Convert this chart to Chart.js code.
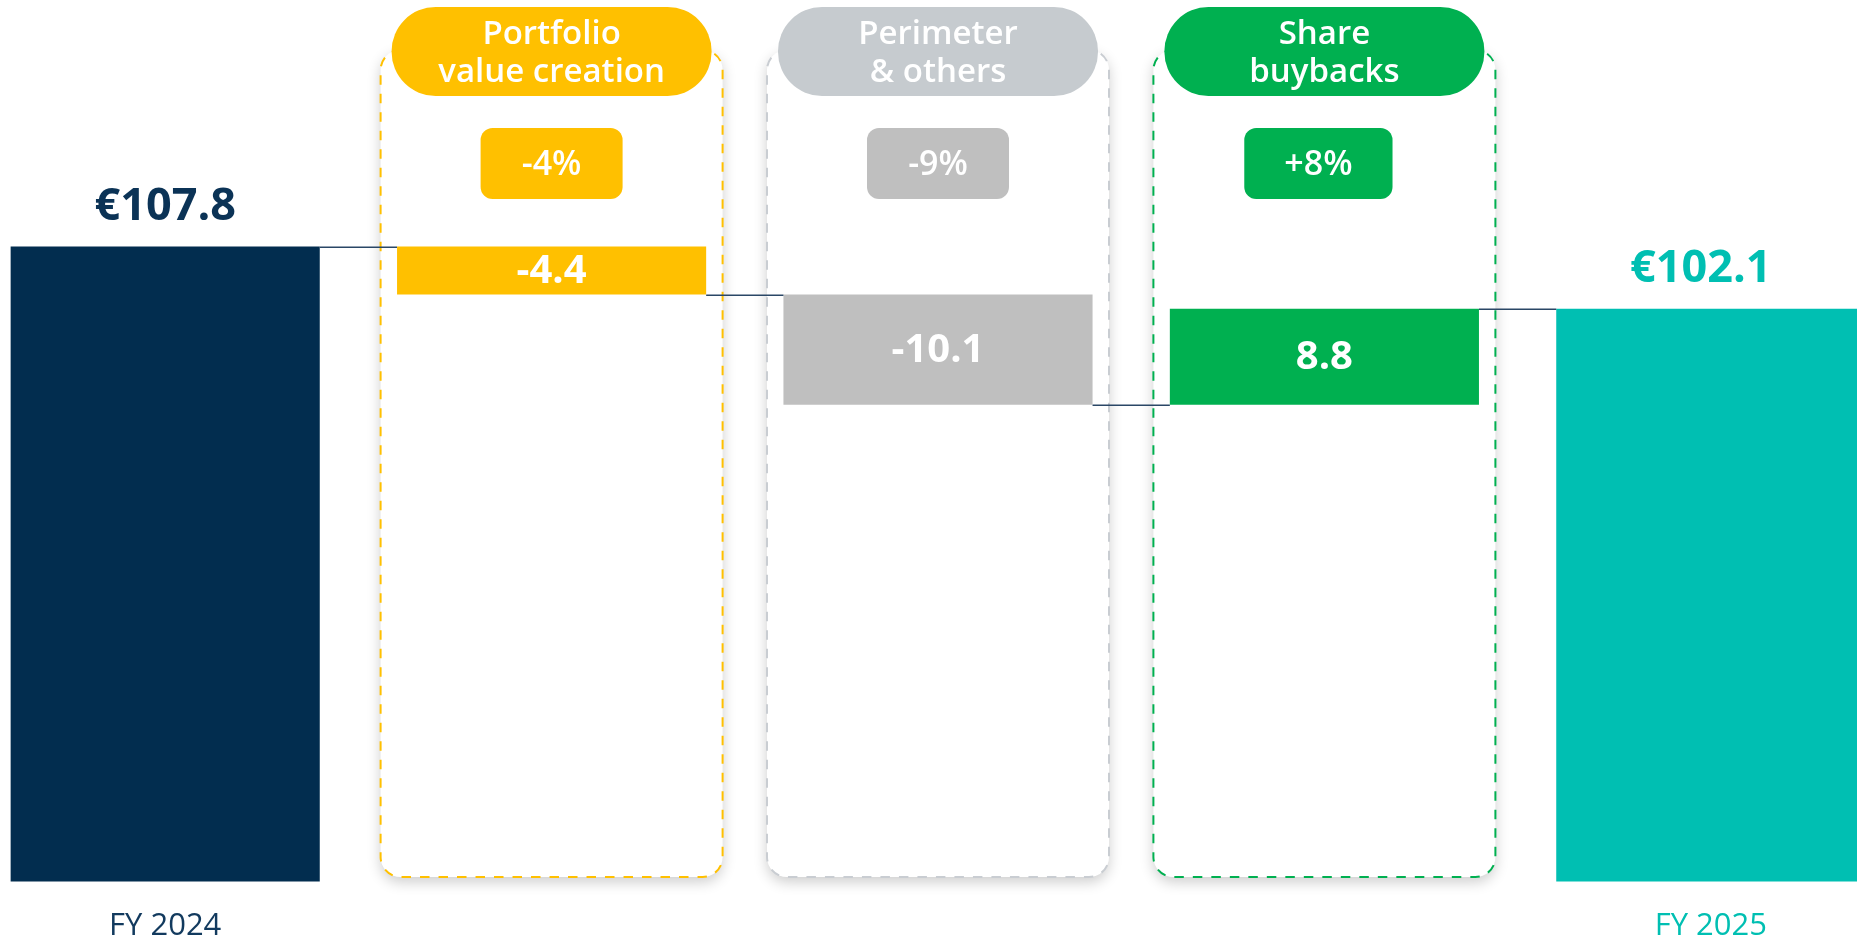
<!DOCTYPE html>
<html>
<head>
<meta charset="utf-8">
<script src="https://cdn.jsdelivr.net/npm/chart.js@4/dist/chart.umd.min.js"></script>
<style>
  html, body { margin: 0; padding: 0; background: #fff; overflow: hidden; }
  /* the first and last bars run off the page edges, so the canvas is a bit wider than the window */
  #wrap { position: absolute; left: -28px; top: 0; width: 1932px; height: 941px; }
</style>
</head>
<body>
<div id="wrap"><canvas id="bridgeChart"></canvas></div>
<script>
  // categories of the bridge
  const categories = ["FY 2024", "Portfolio value creation", "Perimeter & others", "Share buybacks", "FY 2025"];
  // header pill text for the three movement columns
  const headerLines = [[], ["Portfolio", "value creation"], ["Perimeter", "& others"], ["Share", "buybacks"], []];
  const pctLabels = ["", "-4%", "-9%", "+8%", ""];

  const startValue = 107.8;
  const deltas = [-4.4, -10.1, 8.8];
  const endValue = 102.1;

  const barColors = ["#022d4f", "#ffc000", "#bfbfbf", "#00b050", "#00bfb2"];
  const pillColors = ["", "#ffc000", "#c6cbcf", "#00b050", ""];
  const badgeColors = ["", "#ffc000", "#bfbfbf", "#00b050", ""];
  const boxDashColors = ["", "#ffc000", "#c9cdd2", "#00b050", ""];
  const tickColors = ["#123a5e", "", "", "", "#00bfb2"];

  const FONT = "'Open Sans', 'Noto Sans', sans-serif";

  // build the floating bars: totals sit on the axis, movements float between running totals
  let ranges = [[0, startValue]];
  let running = startValue;
  for (let i = 0; i < deltas.length; i++) {
    let next = +(running + deltas[i]).toFixed(1);
    ranges.push([Math.min(running, next), Math.max(running, next)]);
    running = next;
  }
  ranges.push([0, endValue]);
  // value that each bar hands over to the next one
  let levels = [startValue];
  running = startValue;
  for (let i = 0; i < deltas.length; i++) {
    running = +(running + deltas[i]).toFixed(1);
    levels.push(running);
  }

  function roundRect(ctx, x, y, w, h, r) {
    ctx.beginPath();
    ctx.moveTo(x + r, y);
    ctx.lineTo(x + w - r, y);
    ctx.arcTo(x + w, y, x + w, y + r, r);
    ctx.lineTo(x + w, y + h - r);
    ctx.arcTo(x + w, y + h, x + w - r, y + h, r);
    ctx.lineTo(x + r, y + h);
    ctx.arcTo(x, y + h, x, y + h - r, r);
    ctx.lineTo(x, y + r);
    ctx.arcTo(x, y, x + r, y, r);
    ctx.closePath();
  }

  // dashed column frames behind the movement bars
  const framesPlugin = {
    id: "frames",
    beforeDatasetsDraw(chart) {
      let ctx = chart.ctx;
      let x = chart.scales.x;
      for (let i = 1; i < categories.length - 1; i++) {
        let cx = x.getPixelForValue(i);
        let left = cx - 171, top = 50, w = 342, h = 827;
        ctx.save();
        ctx.shadowColor = "rgba(0,0,0,0.2)";
        ctx.shadowBlur = 14;
        ctx.shadowOffsetY = 5;
        roundRect(ctx, left, top, w, h, 20);
        ctx.fillStyle = "#fff";
        ctx.fill();
        ctx.restore();

        ctx.save();
        roundRect(ctx, left, top, w, h, 20);
        ctx.setLineDash([9.5, 9]);
        ctx.lineWidth = 2;
        ctx.strokeStyle = boxDashColors[i];
        ctx.stroke();
        ctx.restore();
      }
    },
    afterDatasetsDraw(chart) {
      let ctx = chart.ctx;
      let x = chart.scales.x;
      let y = chart.scales.y;
      let bars = chart.getDatasetMeta(0).data;

      // connector lines between bars
      ctx.save();
      ctx.strokeStyle = "#2a4766";
      ctx.lineWidth = 1.5;
      for (let i = 0; i < bars.length - 1; i++) {
        let ly = Math.round(y.getPixelForValue(levels[i])) + 0.25;
        ctx.beginPath();
        ctx.moveTo(bars[i].x + bars[i].width / 2, ly);
        ctx.lineTo(bars[i + 1].x - bars[i + 1].width / 2, ly);
        ctx.stroke();
      }
      ctx.restore();

      ctx.save();
      ctx.textAlign = "center";
      for (let i = 0; i < bars.length; i++) {
        let b = bars[i];
        if (i == 0 || i == bars.length - 1) {
          // totals above the bar
          let val = i == 0 ? startValue : endValue;
          ctx.fillStyle = i == 0 ? "#0b3356" : "#00bfb2";
          ctx.font = "bold 45px " + FONT;
          ctx.textBaseline = "alphabetic";
          ctx.fillText("€" + val.toFixed(1), i == 0 ? b.x : b.x - 10, b.y - 27);
        } else {
          // movement value inside the bar
          ctx.fillStyle = "#fff";
          ctx.font = "bold 40px " + FONT;
          ctx.textBaseline = "middle";
          ctx.fillText(deltas[i - 1].toFixed(1), b.x, (b.y + b.base) / 2 + 1);

          let cx = x.getPixelForValue(i);
          // header pill
          ctx.fillStyle = pillColors[i];
          roundRect(ctx, cx - 160, 7, 320, 89, 44);
          ctx.fill();
          ctx.fillStyle = "#fff";
          ctx.font = "600 33px " + FONT;
          ctx.textBaseline = "alphabetic";
          ctx.fillText(headerLines[i][0], cx, 44);
          ctx.fillText(headerLines[i][1], cx, 82);

          // percentage badge
          ctx.font = "600 34px " + FONT;
          let bw = Math.max(142, ctx.measureText(pctLabels[i]).width + 80);
          let bx = i == 3 ? cx - 6 : cx;
          ctx.fillStyle = badgeColors[i];
          roundRect(ctx, bx - bw / 2, 128, bw, 71, 12);
          ctx.fill();
          ctx.fillStyle = "#fff";
          ctx.textBaseline = "middle";
          ctx.fillText(pctLabels[i], bx, 165);
        }
      }
      ctx.restore();
    }
  };

  var ctx = document.getElementById("bridgeChart").getContext("2d");
  var chart = new Chart(ctx, {
    // floating bars make the waterfall
    type: "bar",
    data: {
      labels: categories,
      datasets: [{
        data: ranges,
        backgroundColor: barColors,
        borderWidth: 0,
        barPercentage: 1,
        categoryPercentage: 0.8
      }]
    },
    options: {
      responsive: true,
      maintainAspectRatio: false,
      animation: false,
      layout: { padding: 0 },
      plugins: {
        legend: { display: false },
        tooltip: { enabled: false }
      },
      scales: {
        x: {
          grid: { display: false, drawTicks: false },
          border: { display: false },
          // keep the plot bottom where the bars end in the picture
          afterFit: function (scale) { scale.height = 59.5; },
          ticks: {
            autoSkip: false,
            maxRotation: 0,
            padding: 26,
            font: { family: FONT, size: 31, weight: "normal" },
            color: function (c) { return tickColors[c.index] || "#000"; },
            callback: function (v, idx) {
              return (idx == 0 || idx == categories.length - 1) ? categories[idx] : "";
            }
          }
        },
        y: {
          display: false,
          min: 49.6,
          max: 130.4
        }
      }
    },
    plugins: [framesPlugin]
  });
</script>
</body>
</html>
